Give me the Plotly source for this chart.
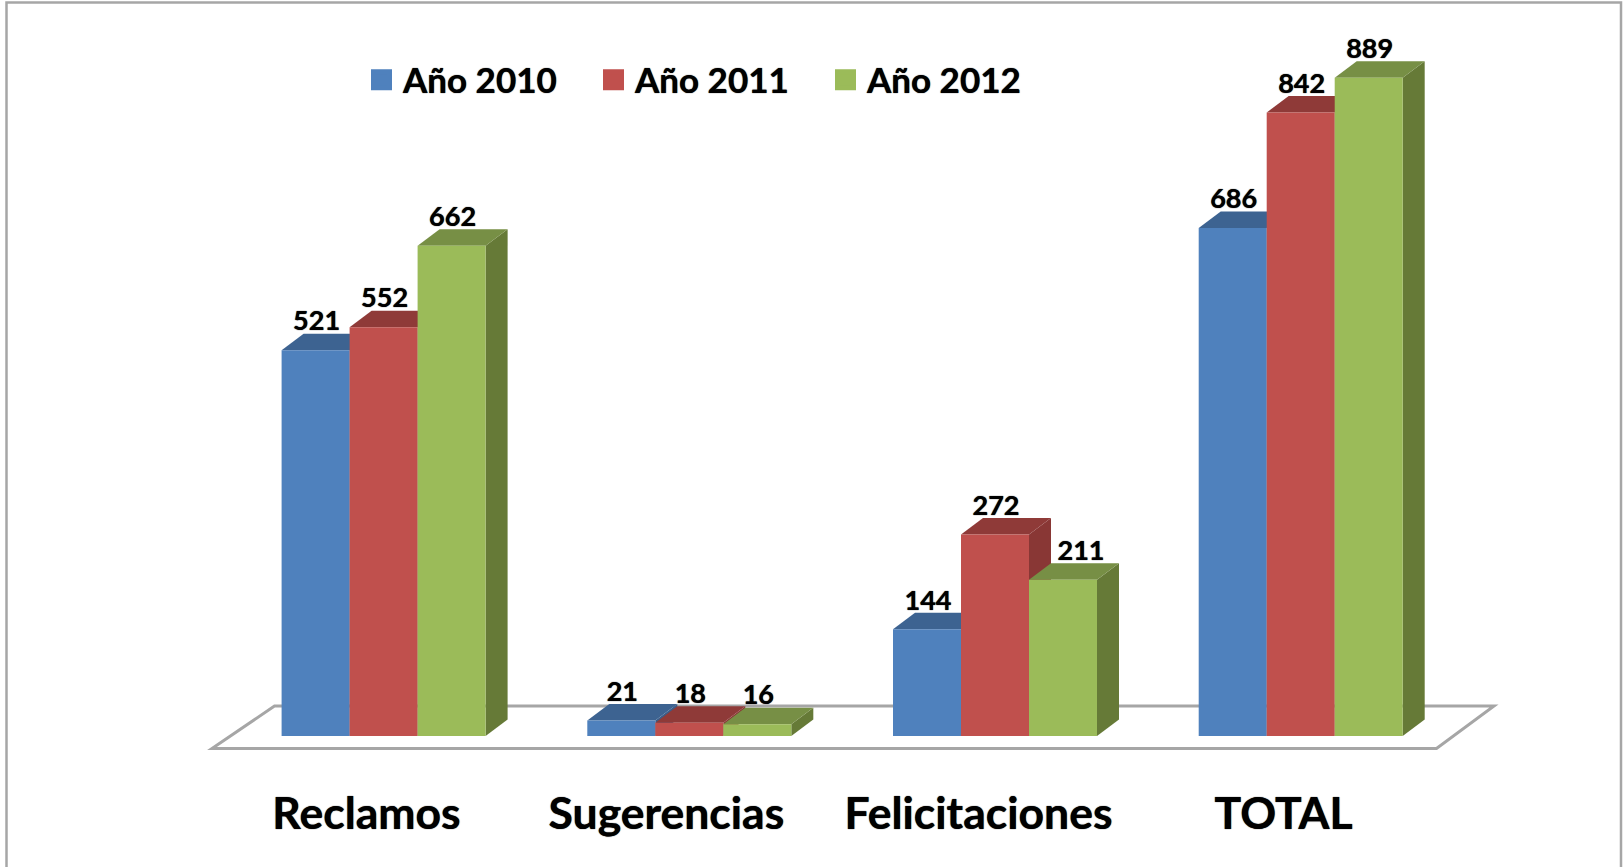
import plotly.graph_objects as go

# ---- data ----
categories = ["Reclamos", "Sugerencias", "Felicitaciones", "TOTAL"]
series_names = ["Año 2010", "Año 2011", "Año 2012"]
values_2010 = [521, 21, 144, 686]
values_2011 = [552, 18, 272, 842]
values_2012 = [662, 16, 211, 889]
tick_shift = [-0.056, -0.075, -0.054, -0.056]   # label centring relative to the group

# ---- style ----
front = ["#4F81BD", "#C0504D", "#9BBB59"]
top = ["#3D6391", "#8F3A38", "#778F45"]
side = ["#3A5D89", "#893735", "#667A37"]
FONT = "Lato"
SHADOW = "0 0 1px #000"
W, H = 1623, 867
BOTTOM = 84
GROUP_PX = 305.7
ZERO_X = 383.6
ZERO_Y = 736
UNIT_PX = 0.7405
BAR_W = 68 / GROUP_PX
DX = 22 / GROUP_PX
DY = 16.5 / UNIT_PX
LABEL_UP = 26.5 / UNIT_PX
LABEL_RIGHT = 1 / GROUP_PX
MOVED_LABEL = {(2, 2): 17 / GROUP_PX}   # the 211 label sits clear of the taller neighbour

series = [values_2010, values_2011, values_2012]
x_range = [-ZERO_X / GROUP_PX, (W - ZERO_X) / GROUP_PX]
y_range = [-(H - BOTTOM - ZERO_Y) / UNIT_PX, ZERO_Y / UNIT_PX]


def poly(points, color):
    path = "M" + " L".join(f"{x},{y}" for x, y in points) + " Z"
    return dict(type="path", path=path, xref="x", yref="y", layer="below",
                fillcolor=color, line=dict(width=0))


shapes = [
    # slide frame: its lower edge runs off the page
    dict(type="rect", xref="paper", yref="paper", layer="below",
         x0=6.5 / W, x1=1621 / W, y0=-0.5,
         y1=(H - BOTTOM - 2.5) / (H - BOTTOM),
         line=dict(color="#A6A6A6", width=2.5), fillcolor="white"),
    # floor
    dict(type="path", xref="x", yref="y", layer="below",
         path=(f"M{(212 - ZERO_X) / GROUP_PX},{(ZERO_Y - 748.5) / UNIT_PX}"
               f" L{(1436.5 - ZERO_X) / GROUP_PX},{(ZERO_Y - 748.5) / UNIT_PX}"
               f" L{(1494 - ZERO_X) / GROUP_PX},{(ZERO_Y - 706) / UNIT_PX}"
               f" L{(274.5 - ZERO_X) / GROUP_PX},{(ZERO_Y - 706) / UNIT_PX} Z"),
         fillcolor="white", line=dict(color="#A6A6A6", width=3)),
]

for s, vals in enumerate(series):
    for c, v in enumerate(vals):
        x0 = c + (s - 1.5) * BAR_W
        x1 = x0 + BAR_W
        shapes.append(poly([(x1, 0), (x1 + DX, DY), (x1 + DX, v + DY), (x1, v)], side[s]))
        shapes.append(poly([(x0, v), (x0 + DX, v + DY), (x1 + DX, v + DY), (x1, v)], top[s]))

fig = go.Figure()
for s, vals in enumerate(series):
    fig.add_trace(go.Bar(x=list(range(len(categories))), y=vals, name=series_names[s],
                         marker=dict(color=front[s], line=dict(width=0)), showlegend=False))

# data labels
for s, vals in enumerate(series):
    fig.add_trace(go.Scatter(x=[c + (s - 1) * BAR_W + LABEL_RIGHT + MOVED_LABEL.get((s, c), 0)
                                for c in range(len(categories))],
                             y=[v + LABEL_UP for v in vals],
                             text=[str(v) for v in vals], mode="text",
                             textposition="middle center", showlegend=False, hoverinfo="skip",
                             textfont=dict(family=FONT, size=27, color="black", weight=700,
                                           shadow=SHADOW)))

# legend entries with square keys
for s, name in enumerate(series_names):
    fig.add_trace(go.Scatter(x=[None], y=[None], name=name, mode="markers",
                             marker=dict(symbol="square", size=16, color=front[s],
                                         line=dict(width=5, color=front[s]))))

fig.update_layout(
    width=W, height=H, margin=dict(l=0, r=0, t=0, b=BOTTOM, autoexpand=False),
    paper_bgcolor="white", plot_bgcolor="rgba(0,0,0,0)",
    barmode="group", bargap=1 - 3 * BAR_W, bargroupgap=0,
    shapes=shapes, showlegend=True,
    legend=dict(orientation="h", xref="container", yref="container",
                x=360 / W, xanchor="left", y=1 - 80 / H, yanchor="middle",
                itemsizing="trace", itemclick=False, itemdoubleclick=False,
                itemwidth=33, entrywidth=184, entrywidthmode="pixels",
                bgcolor="rgba(0,0,0,0)",
                font=dict(family=FONT, size=35, color="black", weight=700, shadow=SHADOW)),
    xaxis=dict(range=x_range, showgrid=False, zeroline=False, showline=False,
               tickmode="array", tickvals=[c + t for c, t in zip(range(4), tick_shift)],
               ticktext=categories, ticks="", ticklabelstandoff=0,
               tickfont=dict(family=FONT, size=44.5, color="black", weight=700, shadow=SHADOW)),
    yaxis=dict(range=y_range, visible=False, showgrid=False, zeroline=False),
    hovermode=False,
)

fig.write_html("out.html", post_script="document.body.style.margin='0';document.body.style.overflow='hidden';",
               config=dict(displayModeBar=False))
